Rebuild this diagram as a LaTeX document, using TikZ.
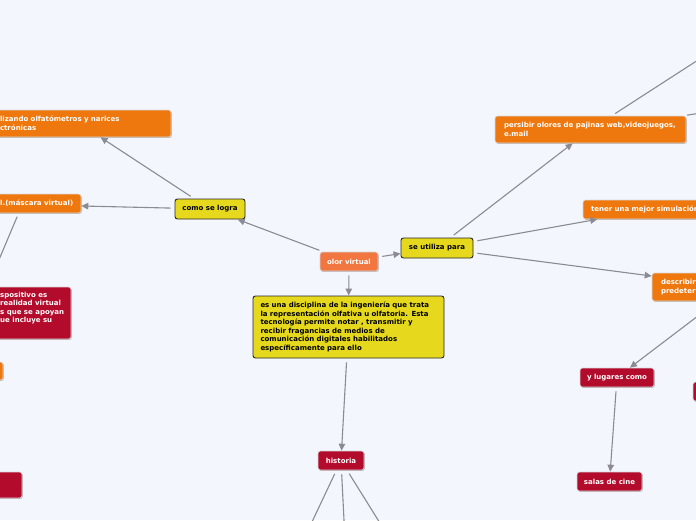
\documentclass[tikz,border=0pt]{standalone}
\usepackage{fontspec}
\setmainfont{DejaVu Sans}
\usetikzlibrary{arrows.meta,shadows}
\definecolor{bg}{HTML}{F3F6FD}
\definecolor{orn}{HTML}{EE780E}
\definecolor{olr}{HTML}{F1763F}
\definecolor{rd}{HTML}{B30B2C}
\definecolor{yl}{HTML}{E6D91D}
\definecolor{ln}{HTML}{8A8B93}
\tikzset{
  fnt/.style={font=\fontsize{7}{8.6}\selectfont\bfseries},
  base/.style={fnt, rounded corners=2.5pt, inner sep=0pt, align=left},
  shd/.style={drop shadow={shadow xshift=0.8pt, shadow yshift=-0.9pt, opacity=0.25, fill=black}},
  obox/.style={base, shd, fill=orn, draw=white!85!black, line width=0.6pt, text=white},
  olbox/.style={base, shd, fill=olr, draw=white!85!black, line width=0.6pt, text=white},
  rbox/.style={base, shd, fill=rd, draw=white!85!black, line width=0.6pt, text=white},
  ybox/.style={base, fill=yl, draw=black!85, line width=0.9pt, text=black},
  lbl/.style={fnt, inner sep=0pt, align=left, text=white},
  conn/.style={draw=ln, line width=1.1pt, shorten <=4pt},
  arr/.style={conn, -{Triangle[length=7pt,width=6.5pt]}}
}
\begin{document}
\begin{tikzpicture}[x=1pt,y=-1pt]
\useasboundingbox (0,0) rectangle (696,520);
\clip (0,0) rectangle (696,520);
\fill[bg] (0,0) rectangle (696,520);

% central
\node[olbox, minimum width=58pt, minimum height=19pt] (olor) at (349,261.5) {olor virtual};
\node[ybox, minimum width=191pt, minimum height=62pt, text width=176pt] (def) at (348.5,327)
 {es una disciplina de la ingeniería que trata\\la representación olfativa u olfatoria. Esta\\tecnología permite notar , transmitir y\\recibir fragancias de medios de\\comunicación digitales habilitados\\específicamente para ello};
\node[ybox, minimum width=72pt, minimum height=20pt] (usa) at (437,248) {se utiliza para};
\node[ybox, minimum width=70pt, minimum height=20pt] (logra) at (210,209) {como se logra};
\node[rbox, minimum width=46pt, minimum height=19pt] (hist) at (341,460.5) {historia};

% left side
\node[obox, minimum width=183pt, minimum height=27pt, text width=159pt] (utiliz) at (79.5,123.5)
 {lizando olfatómetros y narices\\ctrónicas};
\node[obox, minimum width=212pt, minimum height=19pt] (masc) at (-25,203.5) {};
\node[lbl, anchor=west] (masct) at (0,203.5) {l.(máscara virtual)};
\node[rbox, minimum width=131pt, minimum height=52pt] (disp) at (5.5,313) {};
\node[lbl, anchor=north west] (dispt) at (0,291.5) {spositivo es\\realidad virtual\\s que se apoyan\\ue incluye su};
\node[obox, minimum width=23pt, minimum height=18pt] (osm) at (-8.5,371) {};
\node[rbox, minimum width=42pt, minimum height=26pt] (rsm) at (1,485) {};

% right side
\node[obox, minimum width=191pt, minimum height=27pt, text width=173pt] (pers) at (590.5,129.5)
 {persibir olores de pajinas web,videojuegos,\\e.mail};
\node[obox, minimum width=138pt, minimum height=19pt, text width=122pt] (tener) at (652,209.5)
 {tener una mejor simulación};
\node[obox, minimum width=168pt, minimum height=28pt, text width=150pt] (desc) at (736,287)
 {describir\\predeterminados};
\node[rbox, minimum width=74pt, minimum height=19pt] (ylug) at (617,377.5) {y lugares como};
\node[rbox, minimum width=47pt, minimum height=19pt] (rr) at (716.5,391.5) {};
\node[rbox, minimum width=65pt, minimum height=19pt] (salas) at (609.5,481.5) {salas de cine};

% free ends
\coordinate (h1) at (294,560);
\coordinate (h2) at (346,560);
\coordinate (h3) at (403,560);
\coordinate (p1) at (760,20);
\coordinate (p2) at (800,98.3);
\coordinate (ma) at (18.7,213);
\coordinate (mb) at (-10,281);

% connectors
\draw[arr] (olor) -- (def);
\draw[arr] (def) -- (hist);
\draw[arr] (olor) -- (usa);
\draw[arr] (olor) -- (logra);
\draw[arr] (logra) -- (utiliz);
\draw[arr] (logra) -- (masc);
\draw[conn] (ma) -- (mb);
\draw[arr] (usa) -- (pers);
\draw[arr] (usa) -- (tener);
\draw[arr] (usa) -- (desc);
\draw[arr] (desc) -- (ylug);
\draw[arr] (ylug) -- (salas);
\draw[conn] (pers) -- (p1);
\draw[conn] (pers) -- (p2);
\draw[conn] (hist) -- (h1);
\draw[conn] (hist) -- (h2);
\draw[conn] (hist) -- (h3);
\end{tikzpicture}
\end{document}
